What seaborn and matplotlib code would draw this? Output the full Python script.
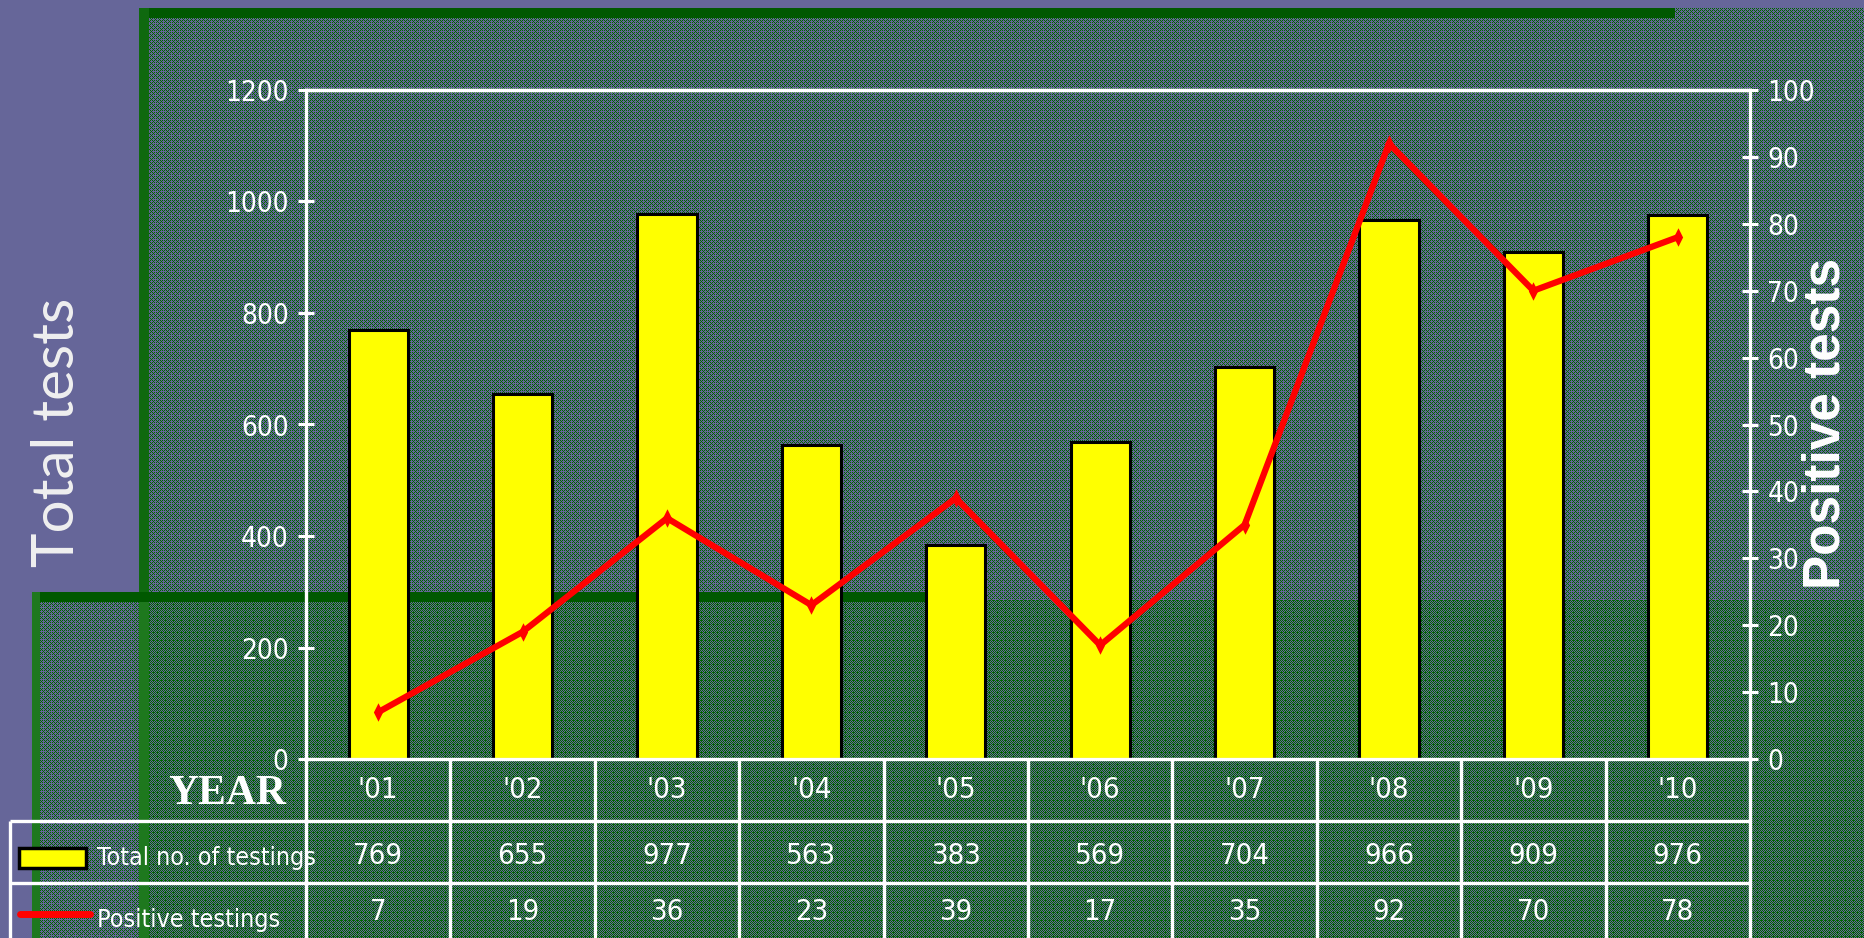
import numpy as np
import pandas as pd
import matplotlib
matplotlib.use("Agg")
import matplotlib.pyplot as plt
import seaborn as sns
from matplotlib.patches import Rectangle
from matplotlib import font_manager as fm

# data
years = ["'01", "'02", "'03", "'04", "'05", "'06", "'07", "'08", "'09", "'10"]
total_tests = [769, 655, 977, 563, 383, 569, 704, 966, 909, 976]
positive_tests = [7, 19, 36, 23, 39, 17, 35, 92, 70, 78]
left_ticks = [0, 200, 400, 600, 800, 1000, 1200]
right_ticks = [0, 10, 20, 30, 40, 50, 60, 70, 80, 90, 100]

df = pd.DataFrame({"year": years, "total": total_tests, "positive": positive_tests})

W, H = 1865, 938

sns.set_style("white")

# pick a narrow face if one is on the system, like the Arial Narrow of the slide
narrow_file = None
for key in ["LiberationSansNarrow-Regular", "DejaVuSansCondensed.", "Condensed-Regular", "Narrow"]:
    hits = [f.fname for f in fm.fontManager.ttflist if key in f.fname.split("/")[-1]]
    if hits:
        narrow_file = sorted(hits)[0]
        break


def nfont(size):
    if narrow_file:
        return fm.FontProperties(fname=narrow_file, size=size)
    return fm.FontProperties(family=["Liberation Sans", "DejaVu Sans"], size=size * 0.85)


# slide background: purple with dithered green panels
def bayer(n):
    m = np.array([[0, 2], [3, 1]])
    while m.shape[0] < n:
        m = np.block([[4 * m, 4 * m + 2], [4 * m + 3, 4 * m + 1]])
    return (m + 0.5) / m.size

thr = np.tile(bayer(8), (H // 8 + 1, W // 8 + 1))[:H, :W]
purple = np.array([102, 102, 153])
green = np.array([0, 102, 0])
dark = np.array([0, 88, 0])
light = np.array([30, 120, 30])

bg = np.zeros((H, W, 3), dtype=float)
bg[:] = purple
sparse = thr < 0.36
dense = thr < 0.55
yy, xx = np.mgrid[0:H, 0:W]

upper = (yy >= 8) & (xx >= 139)
bg[upper & sparse] = green
lowleft = (yy >= 602) & (xx >= 40) & (xx < 139)
bg[lowleft & sparse] = green
low = (yy >= 600) & (xx >= 149)
bg[low] = purple
bg[low & dense] = green
bg[8:18, 139:1675] = dark
bg[8:592, 139:149] = [15, 105, 15]
bg[602:, 139:149] = light
bg[592:602, 32:955] = dark
bg[592:, 32:40] = light
bg = bg / 255.0

fig = plt.figure(figsize=(W / 100, H / 100), dpi=100)
fig.patch.set_facecolor("#666699")
fig.figimage(bg, xo=0, yo=0, origin="upper", zorder=-10)

ax = fig.add_axes([306 / W, 1 - 759 / H, 1444 / W, 669 / H])
ax.set_facecolor("none")

sns.barplot(data=df, x="year", y="total", color="#ffff00", saturation=1,
            edgecolor="black", linewidth=2.2, width=0.41, ax=ax)

ax2 = ax.twinx()
sns.pointplot(data=df, x="year", y="positive", color="#ff0000", markers="d",
              markersize=4, linewidth=4.5, errorbar=None, ax=ax2)

ax.set_xlim(-0.5, 9.5)
ax.set_ylim(0, 1200)
ax2.set_ylim(0, 100)
ax.set_yticks(left_ticks)
ax2.set_yticks(right_ticks)
ax.set_xticks([])
ax2.set_xticks([])
for a in (ax, ax2):
    a.set_xlabel("")
    a.set_ylabel("")
    a.tick_params(axis="y", colors="white", direction="inout", length=11,
                  width=2.2, pad=7)
    for lab in a.get_yticklabels():
        lab.set_fontproperties(nfont(20))
    for s in a.spines.values():
        s.set_color("white")
        s.set_linewidth(2.4)
ax2.spines["left"].set_visible(False)
ax2.spines["bottom"].set_visible(False)
ax.spines["right"].set_visible(False)

# data table under the plot
xt = ax.get_xaxis_transform()
line_kw = dict(color="white", lw=2.4, clip_on=False, solid_capstyle="butt")
bottom = -0.28
left_edge = (10 - 306) / 1444
row1, row2 = -62 / 669, -124 / 669
for k in range(len(years) + 1):
    ax.plot([k - 0.5, k - 0.5], [0, bottom], transform=xt, **line_kw)
for r in (row1, row2):
    ax.plot([left_edge, 1], [r, r], transform=ax.transAxes, **line_kw)
ax.plot([left_edge, left_edge], [row1, bottom], transform=ax.transAxes, **line_kw)

txt = dict(color="white", ha="center", va="center", clip_on=False)
for i in range(len(years)):
    ax.text(i, -0.046, years[i], transform=xt, fontproperties=nfont(21), **txt)
    ax.text(i, -0.145, str(total_tests[i]), transform=xt, fontproperties=nfont(21), **txt)
    ax.text(i, -0.229, str(positive_tests[i]), transform=xt, fontproperties=nfont(21), **txt)

ax.text(-0.014, -0.052, "YEAR", transform=ax.transAxes, ha="right", va="center",
        color="white", fontsize=30, fontweight="bold", family="Liberation Serif")

ax.add_patch(Rectangle(((19 - 306) / 1444, -0.163), 67 / 1444, 0.030,
                       transform=ax.transAxes, facecolor="#ffff00", edgecolor="black",
                       lw=2.5, clip_on=False))
ax.plot([(20 - 306) / 1444, (90 - 306) / 1444], [-0.2317, -0.2317], transform=ax.transAxes,
        color="#ff0000", lw=5, clip_on=False, solid_capstyle="round")
ax.text((97 - 306) / 1444, -0.148, "Total no. of testings", transform=ax.transAxes,
        ha="left", va="center", color="white", fontproperties=nfont(18), clip_on=False)
ax.text((97 - 306) / 1444, -0.240, "Positive testings", transform=ax.transAxes,
        ha="left", va="center", color="white", fontproperties=nfont(18), clip_on=False)

fig.text(58 / W, 1 - 432 / H, "Total tests", rotation=90, ha="center", va="center",
         color="#f0f0f0", fontsize=42, family=["Lato", "DejaVu Sans"], fontweight="normal")
fig.text(1826 / W, 1 - 423 / H, "Positive tests", rotation=90, ha="center", va="center",
         color="white", fontsize=37, family=["Liberation Sans", "DejaVu Sans"],
         fontweight="bold")

fig.savefig("out.png", dpi=100)
